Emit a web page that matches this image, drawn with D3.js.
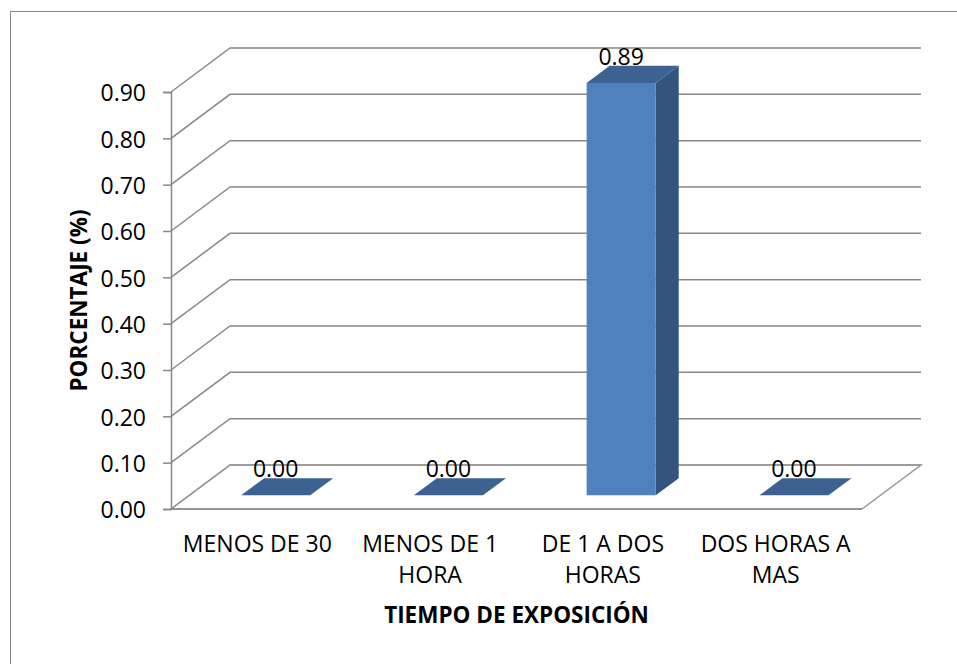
<!DOCTYPE html>
<html><head><meta charset="utf-8">
<script src="https://cdn.jsdelivr.net/npm/d3@7"></script>
<style>body{margin:0;background:#fff;overflow:hidden}</style>
</head><body>
<svg id="c" width="957" height="664"></svg>
<script>
// ---- data ----
const categories = ["MENOS DE 30", "MENOS DE 1\nHORA", "DE 1 A DOS\nHORAS", "DOS HORAS A\nMAS"];
const values = [0.00, 0.00, 0.89, 0.00];
const yTickValues = [0.00, 0.10, 0.20, 0.30, 0.40, 0.50, 0.60, 0.70, 0.80, 0.90];
const xTitle = "TIEMPO DE EXPOSICIÓN";
const yTitle = "PORCENTAJE (%)";

// ---- layout ----
const FONT = "'Open Sans', sans-serif";
const FS = 23;
const svg = d3.select("#c");
const y = d3.scaleLinear().domain([0, 0.9]).range([509, 92]);
const x = d3.scaleBand().domain(categories).range([171, 862]).padding(0);
const DX = 59, DY = 44;
const proj = (xv, v, d) => [xv + DX * d, y(v) - DY * d];
const bw = x.bandwidth();
const D0 = 0.31, D1 = 0.70;
const GRID = "#888888";

// frame
svg.append("rect").attr("x", 10.5).attr("y", 11.5).attr("width", 980).attr("height", 700)
  .attr("fill", "none").attr("stroke", "#8a8a8a").attr("stroke-width", 1);

// gridlines: diagonal side + back wall
const gl = svg.append("g").attr("fill", "none").attr("stroke", GRID).attr("stroke-width", 1.5);
yTickValues.forEach(t => {
  const a = proj(171, t, 0), b = proj(171, t, 1), c = proj(862, t, 1);
  gl.append("path").attr("d", d3.line()([a, b, c]));
});

// floor
const fl = [proj(171, 0, 0), proj(862, 0, 0), proj(862, 0, 1), proj(171, 0, 1)];
svg.append("path").attr("d", d3.line()(fl) + "Z").attr("fill", "none")
  .attr("stroke", "#999999").attr("stroke-width", 1.5);
svg.append("line").attr("x1", 171).attr("x2", 862).attr("y1", y(0)).attr("y2", y(0))
  .attr("stroke", GRID).attr("stroke-width", 1.5);

// vertical axis
const yAxis = d3.axisLeft(y).tickValues(yTickValues).tickFormat(d3.format(".2f"))
  .tickSize(8).tickPadding(17);
const ya = svg.append("g").attr("transform", "translate(171,0)").call(yAxis);
ya.select(".domain").attr("stroke", GRID).attr("stroke-width", 1.5);
ya.selectAll(".tick line").attr("stroke", GRID).attr("stroke-width", 1.5);
ya.selectAll(".tick text").attr("font-family", FONT).attr("font-size", FS)
  .attr("fill", "#000").attr("dy", "0.38em");

// bars
const bars = svg.append("g");
categories.forEach((c, i) => {
  const v = values[i];
  const x0 = x(c) + bw * 0.3, x1 = x0 + bw * 0.4;
  const line = d3.line();
  if (v > 0) {
    bars.append("path").attr("d", line([proj(x1, 0, D0), proj(x1, 0, D1), proj(x1, v, D1), proj(x1, v, D0)]) + "Z")
      .attr("fill", "#34547f");
    bars.append("path").attr("d", line([proj(x0, v, D0), proj(x1, v, D0), proj(x1, v, D1), proj(x0, v, D1)]) + "Z")
      .attr("fill", "#3e6291");
    bars.append("path").attr("d", line([proj(x0, 0, D0), proj(x1, 0, D0), proj(x1, v, D0), proj(x0, v, D0)]) + "Z")
      .attr("fill", "#4f81bd");
  } else {
    bars.append("path").attr("d", line([proj(x0, v, D0), proj(x1, v, D0), proj(x1, v, D1), proj(x0, v, D1)]) + "Z")
      .attr("fill", "#3d6291");
  }
  const xc = (x0 + x1) / 2;
  bars.append("text").attr("x", proj(xc, v, D0)[0]).attr("y", proj(xc, v, D1)[1] - 1)
    .attr("text-anchor", "middle").attr("font-family", FONT).attr("font-size", FS)
    .attr("fill", "#000").text(d3.format(".2f")(v));
});

// category labels
const cl = svg.append("g").attr("font-family", FONT).attr("font-size", FS).attr("fill", "#000")
  .attr("text-anchor", "middle");
categories.forEach(c => {
  const t = cl.append("text").attr("x", x(c) + bw / 2).attr("y", 552);
  c.split("\n").forEach((ln, k) => {
    t.append("tspan").attr("x", x(c) + bw / 2).attr("dy", k === 0 ? 0 : 31).text(ln);
  });
});

// axis titles
svg.append("text").attr("x", (171 + 862) / 2).attr("y", 623).attr("text-anchor", "middle")
  .attr("font-family", FONT).attr("font-size", 22.5).attr("font-weight", "bold").text(xTitle);
svg.append("text").attr("transform", `translate(87,${(y(0) + y(0.9)) / 2}) rotate(-90)`)
  .attr("text-anchor", "middle").attr("font-family", FONT).attr("font-size", 22.5)
  .attr("font-weight", "bold").text(yTitle);
</script>
</body></html>
